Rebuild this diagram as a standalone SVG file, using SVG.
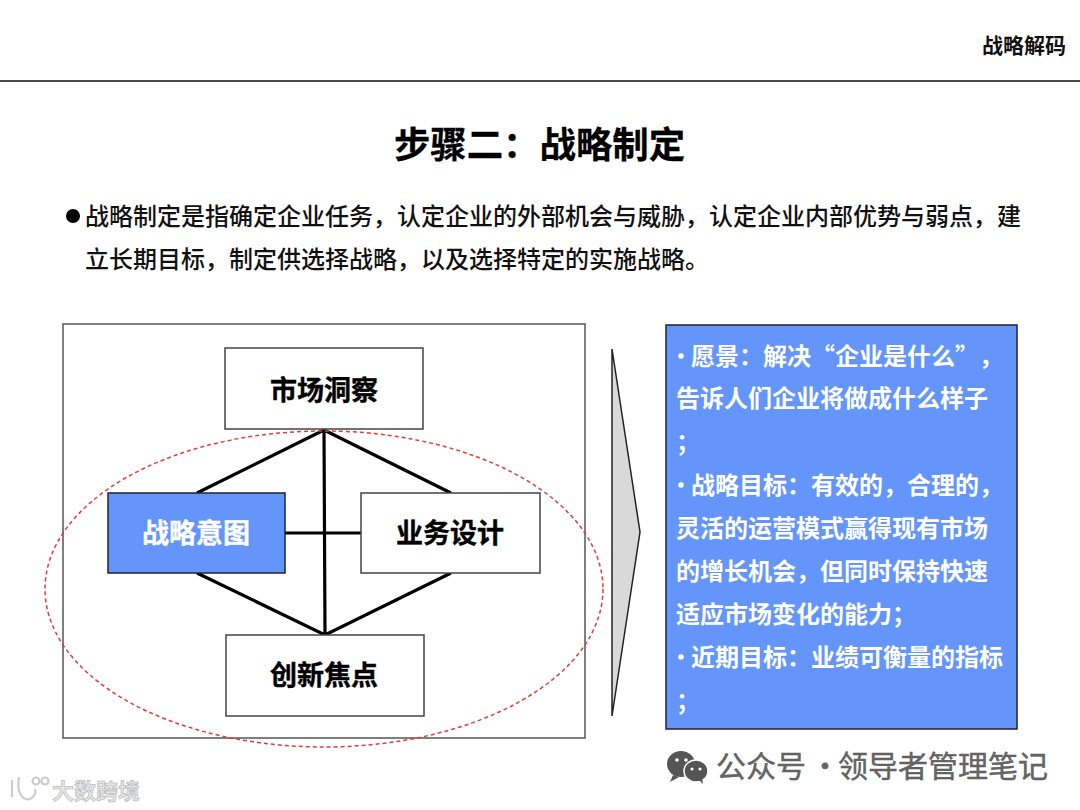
<svg xmlns="http://www.w3.org/2000/svg" width="1080" height="810" viewBox="0 0 1080 810">
<style>
text{font-family:"Noto Sans CJK SC","Liberation Sans",sans-serif;font-weight:700;text-spacing-trim:space-all}
.box{fill:#fff;stroke:#444;stroke-width:1.5}
.blue{fill:#6495fb;stroke:#223;stroke-width:1.5}
.n{font-size:27px;text-anchor:middle;fill:#000;stroke:#000;stroke-width:.4}
.b{font-size:24px;fill:#fff}
.p{font-size:24px;fill:#111;font-weight:500}
.c{stroke:#000;stroke-width:3.2;fill:none}
.w{font-size:30px;fill:#666;font-weight:400;stroke:#555;stroke-width:.4}
</style>
<rect width="1080" height="810" fill="#fff"/>
<line x1="0" y1="81" x2="1080" y2="81" stroke="#111" stroke-width="1.5"/>
<text x="1066" y="53" font-size="21" text-anchor="end" fill="#111">战略解码</text>
<text x="539.5" y="158" font-size="36.4" text-anchor="middle" fill="#000" stroke="#000" stroke-width=".3">步骤二：战略制定</text>
<circle cx="73" cy="216" r="7" fill="#000"/>
<text class="p" x="85" y="225">战略制定是指确定企业任务，认定企业的外部机会与威胁，认定企业内部优势与弱点，建</text>
<text class="p" x="85" y="268">立长期目标，制定供选择战略，以及选择特定的实施战略。</text>
<rect x="63" y="324" width="522" height="414" fill="#fff" stroke="#555" stroke-width="1.5"/>
<g id="connectors">
<path class="c" d="M324 430L197 493M324 430L451 493M324 430L325 635M197 573L325 635L451 573M285 533H361"/>
</g>
<g id="node-market"><rect class="box" x="225" y="348" width="198" height="81"/><text class="n" x="324" y="400">市场洞察</text></g>
<g id="node-intent"><rect class="blue" x="108" y="493" width="177" height="80"/><text class="n" x="196" y="543" style="fill:#fff;stroke:#fff">战略意图</text></g>
<g id="node-design"><rect class="box" x="361" y="493" width="179" height="80"/><text class="n" x="450" y="543">业务设计</text></g>
<g id="node-focus"><rect class="box" x="226" y="635" width="198" height="81"/><text class="n" x="324" y="685">创新焦点</text></g>
<ellipse cx="324" cy="589" rx="279" ry="158" fill="none" stroke="#e23b3f" stroke-width="1.5" stroke-dasharray="4 3"/>
<polygon points="612,349 640,532 612,716" fill="#d9d9d9" stroke="#222" stroke-width="1.5"/>
<g id="node-panel">
<rect class="blue" x="666" y="325" width="351" height="404"/>
<g fill="#fff"><circle cx="681" cy="356" r="2.8"/><circle cx="681" cy="485" r="2.8"/><circle cx="681" cy="657" r="2.8"/></g>
<text class="b" x="691" y="365">愿景：解决“企业是什么”，</text>
<text class="b" x="676" y="407">告诉人们企业将做成什么样子</text>
<text class="b" x="676" y="451">；</text>
<text class="b" x="691" y="494">战略目标：有效的，合理的，</text>
<text class="b" x="676" y="537">灵活的运营模式赢得现有市场</text>
<text class="b" x="676" y="580">的增长机会，但同时保持快速</text>
<text class="b" x="676" y="623">适应市场变化的能力；</text>
<text class="b" x="691" y="666">近期目标：业绩可衡量的指标</text>
<text class="b" x="676" y="710">；</text>
</g>
<g id="wechat-icon" fill="#555">
<ellipse cx="681" cy="764" rx="14" ry="13"/><ellipse cx="696" cy="771" rx="12" ry="11" stroke="#fff" stroke-width="1.5"/>
<path d="M673 775l-3 7 9-5zM699 780l4 4-1-7z"/>
<g fill="#fff"><circle cx="677" cy="760" r="1.8"/><circle cx="686" cy="760" r="1.8"/><circle cx="692" cy="769" r="1.5"/><circle cx="700" cy="769" r="1.5"/></g>
</g>
<text class="w" x="716" y="777">公众号</text>
<text class="w" x="810" y="777">·</text>
<text class="w" x="838" y="777">领导者管理笔记</text>
<text x="52" y="799" font-size="22" fill="#e4e4e4" stroke="#aaa" stroke-width=".5" font-weight="400">大数跨境</text>
<g fill="none" stroke="#ccc" stroke-width="2.2"><path d="M12 780V797M19 777c-3 16 4 24 11 22c5-2 6-7 5-10"/><circle cx="36" cy="781" r="3.5"/><circle cx="45" cy="781" r="3.5"/></g>
</svg>
